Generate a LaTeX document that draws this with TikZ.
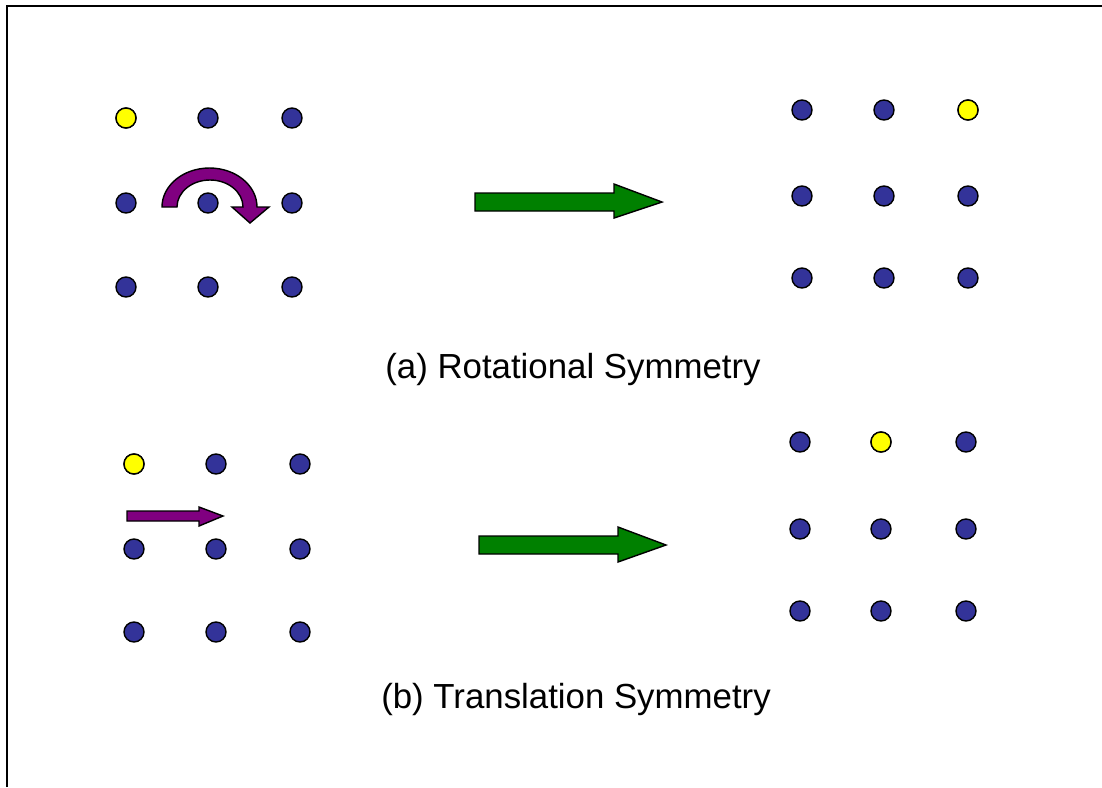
\documentclass[tikz,border=0pt]{standalone}
\usepackage{fontspec}
\setmainfont{Liberation Sans}
\usepackage{tikz}

\definecolor{dotBlue}{RGB}{51,51,153}
\definecolor{dotYellow}{RGB}{255,255,0}
\definecolor{turnPurple}{RGB}{128,0,128}
\definecolor{mapGreen}{RGB}{0,128,0}

\begin{document}
\begin{tikzpicture}[
        x=0.01cm, y=-0.01cm,
        site/.style={
            circle, draw=black, line width=0.4pt, fill=dotBlue,
            minimum size=0.2cm, inner sep=0pt
        },
        markedSite/.style={
            site, fill=dotYellow
        },
        blockArrow/.style={
            draw=black, line width=0.4pt, line join=miter
        },
        caption/.style={
            font=\fontsize{9.9}{12}\selectfont, inner sep=0pt
        }
    ]
        \useasboundingbox (0,0) rectangle (1102,787);
        % Frame
        \draw [line width=0.6pt] (7,787) -- (7,6) -- (1102,6);

        % (a) lattice before and after the turn
        \foreach \c [count=\i] in {126,208,292}
            \foreach \r [count=\j] in {118,203,287}
                \node (rotA-\i-\j) [site] at (\c,\r) {};
        \foreach \c [count=\i] in {802,884,968}
            \foreach \r [count=\j] in {110,196,278}
                \node (rotB-\i-\j) [site] at (\c,\r) {};
        \node (rotA-mark) [markedSite] at (rotA-1-1) {};
        \node (rotB-mark) [markedSite] at (rotB-3-1) {};

        % (b) lattice before and after the shift
        \foreach \c [count=\i] in {134,216,300}
            \foreach \r [count=\j] in {464,549,632}
                \node (trA-\i-\j) [site] at (\c,\r) {};
        \foreach \c [count=\i] in {800,881,966}
            \foreach \r [count=\j] in {442,529,611}
                \node (trB-\i-\j) [site] at (\c,\r) {};
        \node (trA-mark) [markedSite] at (trA-1-1) {};
        \node (trB-mark) [markedSite] at (trB-2-1) {};

        % Curved turn arrow
        \draw [blockArrow, fill=turnPurple] (162,207) arc [start angle=180, end angle=360, x radius=47.5, y radius=39]
            -- (269,207) -- (250,223) -- (232,207) -- (243,207)
            arc [start angle=360, end angle=180, x radius=33, y radius=27] -- cycle;

        % Straight shift arrow
        \draw [blockArrow, fill=turnPurple] (127,511) -- (199,511) -- (199,507) -- (223,516)
            -- (199,526) -- (199,521) -- (127,521) -- cycle;

        % Mapping arrows
        \draw [blockArrow, fill=mapGreen] (475,193) -- (614,193) -- (614,184) -- (662,202)
            -- (614,218) -- (614,211) -- (475,211) -- cycle;
        \draw [blockArrow, fill=mapGreen] (479,536) -- (618,536) -- (618,527) -- (666,545)
            -- (618,562) -- (618,554) -- (479,554) -- cycle;

        % Captions
        \node (capA) [caption] at (573,369) {(a) Rotational Symmetry};
        \node (capB) [caption] at (576,699) {(b) Translation Symmetry};
    \end{tikzpicture}
\end{document}
